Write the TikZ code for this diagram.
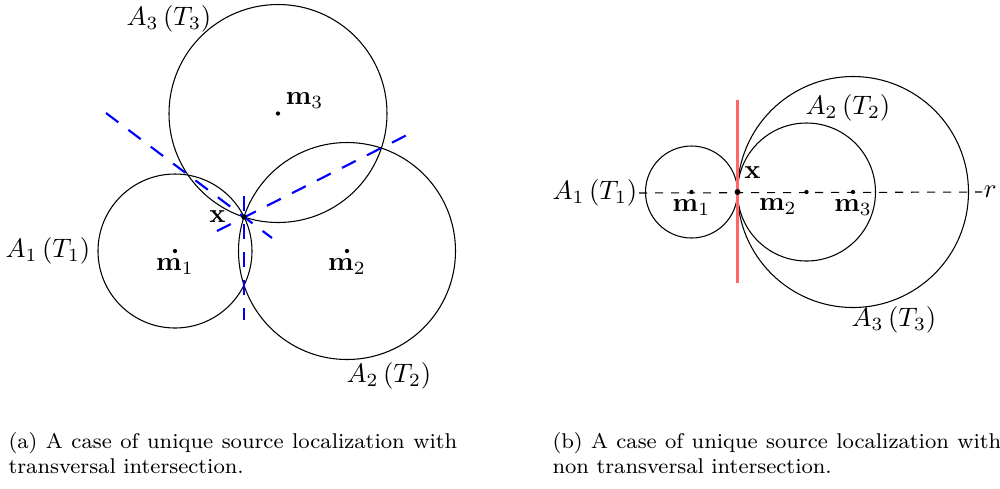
\documentclass[tikz,border=0pt]{standalone}
\usepackage{amsmath}
\usepackage{xcolor}
\usepackage{tikz}
\usetikzlibrary{positioning}
\definecolor{axisblue}{RGB}{0,0,255}

\begin{document}
\begin{tikzpicture}[x=0.375pt, y=-0.375pt, every node/.style={font=\normalsize},
  dot/.style={circle, fill, inner sep=0pt, minimum size=1.6pt},
  lab/.style={inner sep=1.5pt},
  rad/.style={draw=axisblue, line width=0.8pt, dash pattern=on 5.8pt off 4.7pt},
  tanline/.style={draw=red!60, line width=0.8pt},
  capt/.style={font=\footnotesize, align=justify, text width=168.3pt, anchor=north west, inner sep=0pt}]
\useasboundingbox (0,0) rectangle (1000,488);
% (a) transversal
\node[dot] (m1) at (175,251) {};
\node[dot] (m2) at (347,251) {};
\node[dot] (m3) at (278,113.5) {};
\draw (m1) circle[radius=77];
\draw (m2) circle[radius=108.5];
\draw (m3) circle[radius=109];
\coordinate (v1) at (244,196); \coordinate (v2) at (244,320);
\coordinate (p1) at (106,113); \coordinate (p2) at (272,238);
\coordinate (q1) at (217,231); \coordinate (q2) at (409,134);
\draw[rad] (v1) -- (v2); \draw[rad] (p1) -- (p2); \draw[rad] (q1) -- (q2);
\node[dot, minimum size=2pt] (x) at (244,217) {};
\node[lab, below=0pt of m1] (m1l) {$\mathbf{m}_1$};
\node[lab, below=0pt of m2] (m2l) {$\mathbf{m}_2$};
\node[lab, above right=-0.5pt and 0.5pt of m3] (m3l) {$\mathbf{m}_3$};
\node[lab, left=4pt of x] (xl) {$\mathbf{x}$};
\node (a1) at (48,251) {$A_1\,(T_1)$};
\node (a2) at (389,376) {$A_2\,(T_2)$};
\node (a3) at (169,19) {$A_3\,(T_3)$};
% (b) non transversal
\node[dot] (n1) at (691.5,192) {};
\node[dot] (n2) at (806.5,192) {};
\node[dot] (n3) at (853,192) {};
\draw (n1) circle[radius=46];
\draw (n2) circle[radius=69];
\draw (n3) circle[radius=115.5];
\node[inner sep=0.5pt] (b1) at (595,193) {$A_1\,(T_1)$};
\node[inner sep=0.5pt, anchor=west] (r) at (982,192) {$r$};
\draw[dashed] (b1.east) -- (r.west);
\coordinate (t1) at (737.5,100); \coordinate (t2) at (737.5,283);
\draw[tanline] (t1) -- (t2);
\node[dot, minimum size=2.2pt] (y) at (737.5,192) {};
\node[lab, above right=2.5pt and 0pt of y] (yl) {$\mathbf{x}$};
\node[lab, below=0pt of n1] (n1l) {$\mathbf{m}_1$};
\node[lab, below left=0pt and 1.3pt of n2] (n2l) {$\mathbf{m}_2$};
\node[lab, below=0pt of n3] (n3l) {$\mathbf{m}_3$};
\node (b2) at (848,108) {$A_2\,(T_2)$};
\node (b3) at (894,320) {$A_3\,(T_3)$};
% captions
\node[capt] (capa) at (8,432) {(a) A case of unique source localization with transversal intersection.};
\node[capt] (capb) at (552,432) {(b) A case of unique source localization with non transversal intersection.};
\end{tikzpicture}
\end{document}
